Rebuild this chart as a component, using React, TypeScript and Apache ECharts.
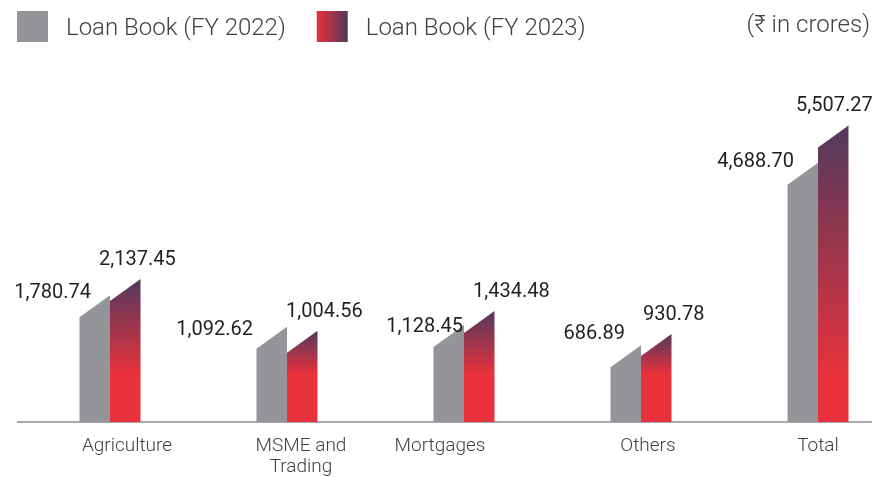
import React, { useEffect, useRef } from "react";
import * as echarts from "echarts";

const categories = ["Agriculture", "MSME and\nTrading", "Mortgages", "Others", "Total"];
const fy2022 = [1780.74, 1092.62, 1128.45, 686.89, 4688.7];
const fy2023 = [2137.45, 1004.56, 1434.48, 930.78, 5507.27];
const seriesNames = ["Loan Book (FY 2022)", "Loan Book (FY 2023)"];
const unitNote = "(₹ in crores)";

const GRAY = "#939598";
const RED = "#e8313b";
const PURPLE = "#52395d";
const TEXT = "#231f20";
const LIGHT_TEXT = "#414042";
const AXIS = "#a7a9ab";
const FONT = "Roboto";

const Y_MIN = -1000;
const Y_MAX = 6000;
const SLANT = 22;
const RED_SOLID_PX = 48;
const BAR_W = 30.5;

// layout nudges for labels (px, relative to each bar's top-right corner)
const grayLabelDx = [-19, -34, -1, -16, -24];
const grayLabelDy = [-4, 1, 0, -13, -3];
const redLabelDx = [-11, -1, 9, 2, -22];
const redLabelDy = -21;
const catLabelShift = [17, 14, -24, 7, 0];

const fmt = (v: number) =>
  v.toLocaleString("en-US", { minimumFractionDigits: 2, maximumFractionDigits: 2 });

export default function App() {
  const ref = useRef<HTMLDivElement>(null);
  useEffect(() => {
    if (!ref.current) return;
    const chart = echarts.init(ref.current, undefined, { renderer: "svg" });

    const rich: Record<string, any> = {};
    catLabelShift.forEach((s, i) => {
      rich["s" + i] = {
        fontSize: 19,
        fontWeight: 300,
        fontFamily: FONT,
        color: LIGHT_TEXT,
        lineHeight: 21,
        padding: s >= 0 ? [0, 0, 0, 2 * s] : [0, -2 * s, 0, 0],
      };
    });

    const makeRender = (isRed: boolean) => (params: any, api: any) => {
      const i = api.value(0);
      const v = api.value(1);
      const top = api.coord([i, v]);
      const base = api.coord([i, Y_MIN]);
      let x0: number, x1: number;
      if (isRed) {
        x0 = top[0];
        x1 = top[0] + BAR_W;
      } else {
        x1 = top[0];
        x0 = top[0] - BAR_W;
      }
      const points = [
        [x0, base[1]],
        [x0, top[1] + SLANT],
        [x1, top[1]],
        [x1, base[1]],
      ];
      const H = base[1] - top[1];
      const f = Math.max(0.05, Math.min(0.95, (H - RED_SOLID_PX) / H));
      const fill = isRed
        ? new echarts.graphic.LinearGradient(0, 0, 0, 1, [
            { offset: 0, color: PURPLE },
            { offset: f, color: RED },
            { offset: 1, color: RED },
          ])
        : GRAY;
      const label = isRed
        ? {
            type: "text",
            x: x0 + redLabelDx[i],
            y: top[1] + redLabelDy,
            style: {
              text: fmt(v),
              align: "left",
              verticalAlign: "middle",
              fontSize: 20,
              fontFamily: FONT,
              fill: TEXT,
            },
          }
        : {
            type: "text",
            x: x1 + grayLabelDx[i],
            y: top[1] + grayLabelDy[i],
            style: {
              text: fmt(v),
              align: "right",
              verticalAlign: "middle",
              fontSize: 20,
              fontFamily: FONT,
              fill: TEXT,
            },
          };
      return {
        type: "group",
        children: [
          { type: "polygon", shape: { points }, style: { fill } },
          label,
        ],
      };
    };

    chart.setOption({
      animation: false,
      grid: { left: 110, right: 54, top: 103, bottom: 55 },
      legend: {
        left: 12,
        top: 6,
        icon: "rect",
        itemWidth: 31,
        itemHeight: 31,
        itemGap: 31,
        selectedMode: false,
        textStyle: {
          fontSize: 24,
          fontWeight: 300,
          fontFamily: FONT,
          color: LIGHT_TEXT,
          padding: [0, 0, 0, 13],
        },
        data: seriesNames,
      },
      graphic: [
        {
          type: "line",
          shape: { x1: 17, y1: 422, x2: 872, y2: 422 },
          style: { stroke: AXIS, lineWidth: 2 },
          z: 0,
        },
        {
          type: "text",
          right: 2,
          top: 12,
          style: {
            text: unitNote,
            fontSize: 24,
            fontWeight: 300,
            fontFamily: FONT,
            fill: LIGHT_TEXT,
          },
        },
      ],
      xAxis: {
        type: "category",
        data: categories,
        boundaryGap: false,
        axisLine: { show: false },
        axisTick: { show: false },
        splitLine: { show: false },
        axisLabel: {
          margin: 12,
          interval: 0,
          formatter: (val: string, idx: number) =>
            val
              .split("\n")
              .map((line) => `{s${idx}|${line}}`)
              .join("\n"),
          rich,
        },
      },
      yAxis: {
        type: "value",
        min: Y_MIN,
        max: Y_MAX,
        show: false,
        splitLine: { show: false },
      },
      series: [
        {
          name: seriesNames[0],
          type: "custom",
          itemStyle: { color: GRAY },
          encode: { x: 0, y: 1 },
          data: fy2022.map((v, i) => [i, v]),
          renderItem: makeRender(false),
          z: 2,
        },
        {
          name: seriesNames[1],
          type: "custom",
          itemStyle: {
            color: new echarts.graphic.LinearGradient(0, 0, 1, 0, [
              { offset: 0, color: RED },
              { offset: 1, color: PURPLE },
            ]),
          },
          encode: { x: 0, y: 1 },
          data: fy2023.map((v, i) => [i, v]),
          renderItem: makeRender(true),
          z: 2,
        },
      ],
    });
    return () => chart.dispose();
  }, []);
  return (
    <div
      ref={ref}
      style={{ position: "fixed", left: 0, top: 0, width: 872, height: 477 }}
    />
  );
}
